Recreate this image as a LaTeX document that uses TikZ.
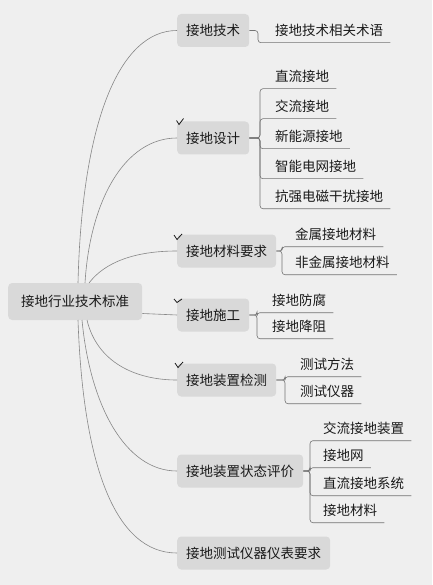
\documentclass[tikz,border=0pt]{standalone}
\usepackage{fontspec}
\newfontfamily\cjk{Noto Sans CJK SC}
\usetikzlibrary{calc}
\definecolor{bg}{HTML}{EFEFEF}
\definecolor{boxfill}{HTML}{D9D9D9}
\definecolor{ink}{HTML}{1A1A1A}
\definecolor{wire}{HTML}{878787}
\tikzset{
  rootbox/.style={fill=boxfill, rounded corners=4pt, anchor=west, minimum height=37pt, inner xsep=13pt, font=\cjk\fontsize{13.5}{15}\selectfont, text=ink},
  mainbox/.style={fill=boxfill, rounded corners=4pt, anchor=west, minimum height=33pt, inner xsep=9pt, font=\cjk\fontsize{13.5}{15}\selectfont, text=ink},
  kid/.style={anchor=west, inner xsep=7pt, inner ysep=4pt, text height=10pt, text depth=3pt, font=\cjk\fontsize{13.5}{15}\selectfont, text=ink},
  wireline/.style={draw=wire, line width=0.6pt},
  busline/.style={draw=wire!85!black, line width=0.6pt, rounded corners=3pt},
  tick/.style={draw=ink, line width=0.8pt}
}
\begin{document}
\begin{tikzpicture}[x=1pt,y=-1pt]
\fill[bg] (0,0) rectangle (432,585);
\useasboundingbox (0,0) rectangle (432,585);

% root
\node[rootbox] (root) at (8,301.5) {接地行业技术标准};

% main nodes
\node[mainbox] (n1) at (177,30.5) {接地技术};
\node[mainbox] (n2) at (177,138) {接地设计};
\node[mainbox] (n3) at (177,251) {接地材料要求};
\node[mainbox] (n4) at (177,315) {接地施工};
\node[mainbox] (n5) at (177,380) {接地装置检测};
\node[mainbox] (n6) at (177,471) {接地装置状态评价};
\node[mainbox] (n7) at (177,553) {接地测试仪器仪表要求};

% start points on root
\coordinate (s1) at (78,283);
\coordinate (s2) at (85,283);
\coordinate (s3) at (89,283);
\coordinate (s5) at (87,320);
\coordinate (s6) at (82,320);
\coordinate (s7) at (78,320);

\draw[wireline] (s1) .. controls (82,120) and (120,30.5) .. (n1.west);
\draw[wireline] (s2) .. controls (90,200) and (125,138) .. (n2.west);
\draw[wireline] (s3) .. controls (105,262) and (135,251) .. (n3.west);
\draw[wireline] ([yshift=-12pt]root.east) -- (n4.west);
\draw[wireline] (s5) .. controls (97,362) and (135,380) .. (n5.west);
\draw[wireline] (s6) .. controls (90,405) and (125,471) .. (n6.west);
\draw[wireline] (s7) .. controls (83,465) and (115,553) .. (n7.west);

% ticks
\draw[tick] (176.5,120.5) -- (179,124.5) -- (183.5,118.5);
\draw[tick] (174,235) -- (177,239.5) -- (182,234);
\draw[tick] (174,299) -- (177,302.5) -- (182,299);
\draw[tick] (175,363) -- (178,367.5) -- (183,362);

% bus coordinates
\coordinate (b1) at (258,0);
\coordinate (b2) at (260,0);
\coordinate (b3) at (282,0);
\coordinate (b4) at (257,0);
\coordinate (b5) at (285,0);
\coordinate (b6) at (310,0);

% children
\node[kid] (c11) at (268,32) {接地技术相关术语};

\node[kid] (c21) at (268,78) {直流接地};
\node[kid] (c22) at (268,108) {交流接地};
\node[kid] (c23) at (268,138) {新能源接地};
\node[kid] (c24) at (268,168) {智能电网接地};
\node[kid] (c25) at (268,198) {抗强电磁干扰接地};

\node[kid] (c31) at (288,236) {金属接地材料};
\node[kid] (c32) at (288,264) {非金属接地材料};

\node[kid] (c41) at (265,302) {接地防腐};
\node[kid] (c42) at (265,328) {接地降阻};

\node[kid] (c51) at (293,366) {测试方法};
\node[kid] (c52) at (293,393) {测试仪器};

\node[kid] (c61) at (316,430) {交流接地装置};
\node[kid] (c62) at (316,457) {接地网};
\node[kid] (c63) at (316,485) {直流接地系统};
\node[kid] (c64) at (316,512) {接地材料};

% child connectors
\draw[busline] (n1.east) -- (n1.east -| b1) |- (c11.south east);
\foreach \c in {c21,c22,c23,c24,c25}
  \draw[busline] (n2.east) -- (n2.east -| b2) |- (\c.south east);
\foreach \c in {c31,c32}
  \draw[busline] (n3.east) -- (n3.east -| b3) |- (\c.south east);
\foreach \c in {c41,c42}
  \draw[busline] (n4.east) -- (n4.east -| b4) |- (\c.south east);
\foreach \c in {c51,c52}
  \draw[busline] (n5.east) -- (n5.east -| b5) |- (\c.south east);
\foreach \c in {c61,c62,c63,c64}
  \draw[busline] (n6.east) -- (n6.east -| b6) |- (\c.south east);
\end{tikzpicture}
\end{document}
